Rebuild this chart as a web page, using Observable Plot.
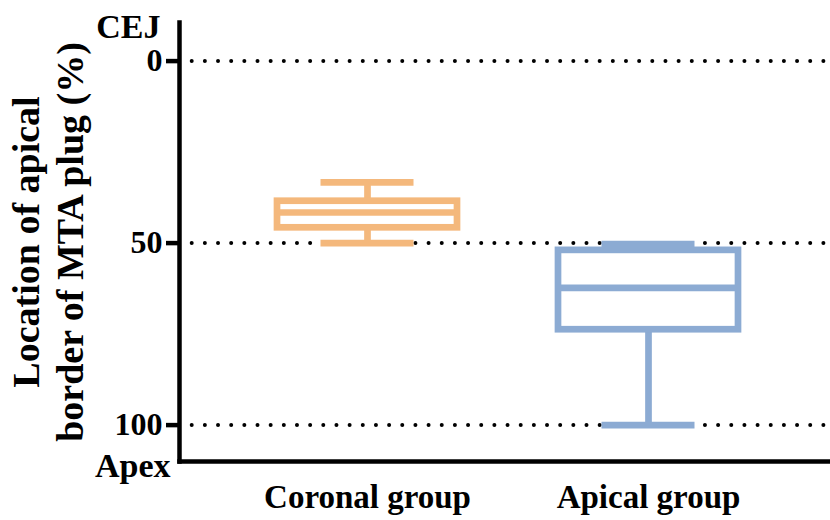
<!DOCTYPE html>
<html><head><meta charset="utf-8">
<script src="https://cdn.jsdelivr.net/npm/d3@7"></script>
<script src="https://cdn.jsdelivr.net/npm/@observablehq/plot@0.6"></script>
<style>body{margin:0;background:#fff}</style>
</head><body><div id="chart"></div>
<script>
const groups = ["Coronal group", "Apical group"];
const minVal = [33.3, 50.3];
const q1Val = [38.5, 52];
const medianVal = [41.6, 62.3];
const q3Val = [45.8, 73.8];
const maxVal = [50, 100];
const colors = ["#F4B87C", "#8CABD3"];
const yTicks = [0, 50, 100];
const yTitle = ["Location of apical", "border of MTA plug (%)"];
const topLabel = ["CEJ"];
const bottomLabel = ["Apex"];

const table = groups.map((g, i) => ({
  group: g, min: minVal[i], q1: q1Val[i], median: medianVal[i], q3: q3Val[i], max: maxVal[i]
}));

const sw = 6.7;
const chart = Plot.plot({
  width: 830, height: 520,
  marginLeft: 179, marginRight: 0, marginTop: 22, marginBottom: 59,
  style: {fontFamily: "'Liberation Serif','Times New Roman',serif", fontWeight: "bold", background: "#fff", color: "#000"},
  x: {domain: groups, range: [182, 833], paddingInner: 0.3606, paddingOuter: 0.3366},
  y: {domain: [-10.6, 110], reverse: true},
  color: {domain: groups, range: colors},
  marks: [
    Plot.ruleY(yTicks, {stroke: "#000", strokeWidth: 4, strokeDasharray: "0 13.16", strokeLinecap: "round", insetLeft: 12.7}),
    Plot.axisY({ticks: yTicks, tickSize: 13, tickPadding: 4, fontSize: 32, strokeWidth: 4.5, label: null}),
    Plot.axisX({tickSize: 0, tickPadding: 23.3, fontSize: 33, label: null}),
    Plot.frame({anchor: "left", strokeWidth: 4.5, strokeLinecap: "square"}),
    Plot.frame({anchor: "bottom", strokeWidth: 4.5, strokeLinecap: "square"}),
    Plot.ruleX(table, {x: "group", y1: "min", y2: "q1", stroke: "group", strokeWidth: sw}),
    Plot.ruleX(table, {x: "group", y1: "q3", y2: "max", stroke: "group", strokeWidth: sw}),
    Plot.barY(table, {x: "group", y1: "q1", y2: "q3", fill: "none", stroke: "group", strokeWidth: sw}),
    Plot.tickY(table, {x: "group", y: "median", stroke: "group", strokeWidth: sw}),
    Plot.tickY(table, {x: "group", y: "min", stroke: "group", strokeWidth: sw, insetLeft: 43.5, insetRight: 43.5}),
    Plot.tickY(table, {x: "group", y: "max", stroke: "group", strokeWidth: sw, insetLeft: 43.5, insetRight: 43.5}),
    Plot.text(topLabel, {frameAnchor: "top-left", text: d => d, textAnchor: "end", lineAnchor: "bottom", dx: -19, dy: 15, fontSize: 34}),
    Plot.text(bottomLabel, {frameAnchor: "bottom-left", text: d => d, textAnchor: "end", lineAnchor: "bottom", dx: -9, dy: 15.7, fontSize: 34}),
    Plot.text([yTitle[0]], {frameAnchor: "left", text: d => d, rotate: -90, textAnchor: "middle", lineAnchor: "bottom", dx: -141, fontSize: 38}),
    Plot.text([yTitle[1]], {frameAnchor: "left", text: d => d, rotate: -90, textAnchor: "middle", lineAnchor: "bottom", dx: -97, fontSize: 38})
  ]
});
document.getElementById("chart").appendChild(chart);
</script>
</body></html>
